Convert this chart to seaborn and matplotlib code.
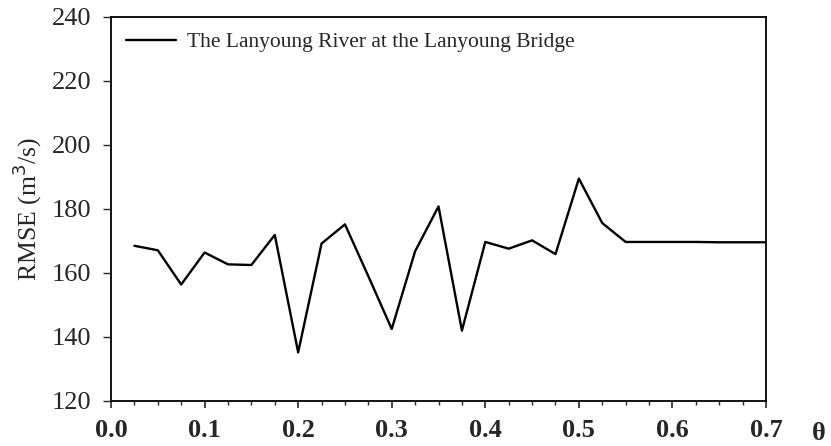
import pandas as pd
import matplotlib.pyplot as plt
import seaborn as sns
from matplotlib.ticker import MultipleLocator

# theta values and RMSE
theta = [0.025, 0.05, 0.075, 0.1, 0.125, 0.15, 0.175, 0.2, 0.225, 0.25,
         0.275, 0.3, 0.325, 0.35, 0.375, 0.4, 0.425, 0.45, 0.475, 0.5,
         0.525, 0.55, 0.575, 0.6, 0.625, 0.65, 0.675, 0.7]
rmse = [168.5, 167.1, 156.4, 166.4, 162.7, 162.5, 171.9, 135.2, 169.2, 175.2,
        159.0, 142.5, 166.8, 180.8, 142.0, 169.7, 167.6, 170.2, 165.9, 189.5,
        175.6, 169.7, 169.7, 169.7, 169.7, 169.6, 169.6, 169.6]
series_name = 'The Lanyoung River at the Lanyoung Bridge'

df = pd.DataFrame({'theta': theta, 'rmse': rmse})

sns.set_style('ticks')
plt.rcParams['font.family'] = ['Liberation Serif', 'DejaVu Serif']

fig = plt.figure(figsize=(8.31, 4.46), dpi=100)
ax = fig.add_axes([0.1336, 0.1009, 0.7882, 0.861])

sns.lineplot(data=df, x='theta', y='rmse', color='black', linewidth=1.7,
             label=series_name, ax=ax)

ax.set_xlim(0, 0.7)
ax.set_ylim(120, 240)
ax.xaxis.set_minor_locator(MultipleLocator(0.025))
ax.yaxis.set_major_locator(MultipleLocator(20))
ax.set_xticks([i / 10 for i in range(8)])
ax.set_xticklabels([f'{i / 10:.1f}' for i in range(8)], fontsize=19, fontweight='bold')
ax.tick_params(axis='x', which='major', length=5, width=1.2, pad=8, direction='out')
ax.tick_params(axis='x', which='minor', length=3, width=1.0, direction='out')
ax.tick_params(axis='y', which='major', length=6, width=1.0, labelsize=19, pad=8)

for s in ax.spines.values():
    s.set_linewidth(1.3)
    s.set_color('black')

ax.set_xlabel('')
ax.set_ylabel('RMSE (m$^3$/s)', fontsize=18.5, labelpad=6)
ax.text(1.081, -0.055, 'θ', transform=ax.transAxes, fontsize=19,
        fontweight='bold', ha='center', va='top')

leg = ax.legend(loc='upper left', frameon=False, fontsize=15.5,
                handlelength=2.3, handletextpad=0.55, borderaxespad=0.3,
                bbox_to_anchor=(0.0, 1.0))

fig.savefig('out.png', dpi=100)
